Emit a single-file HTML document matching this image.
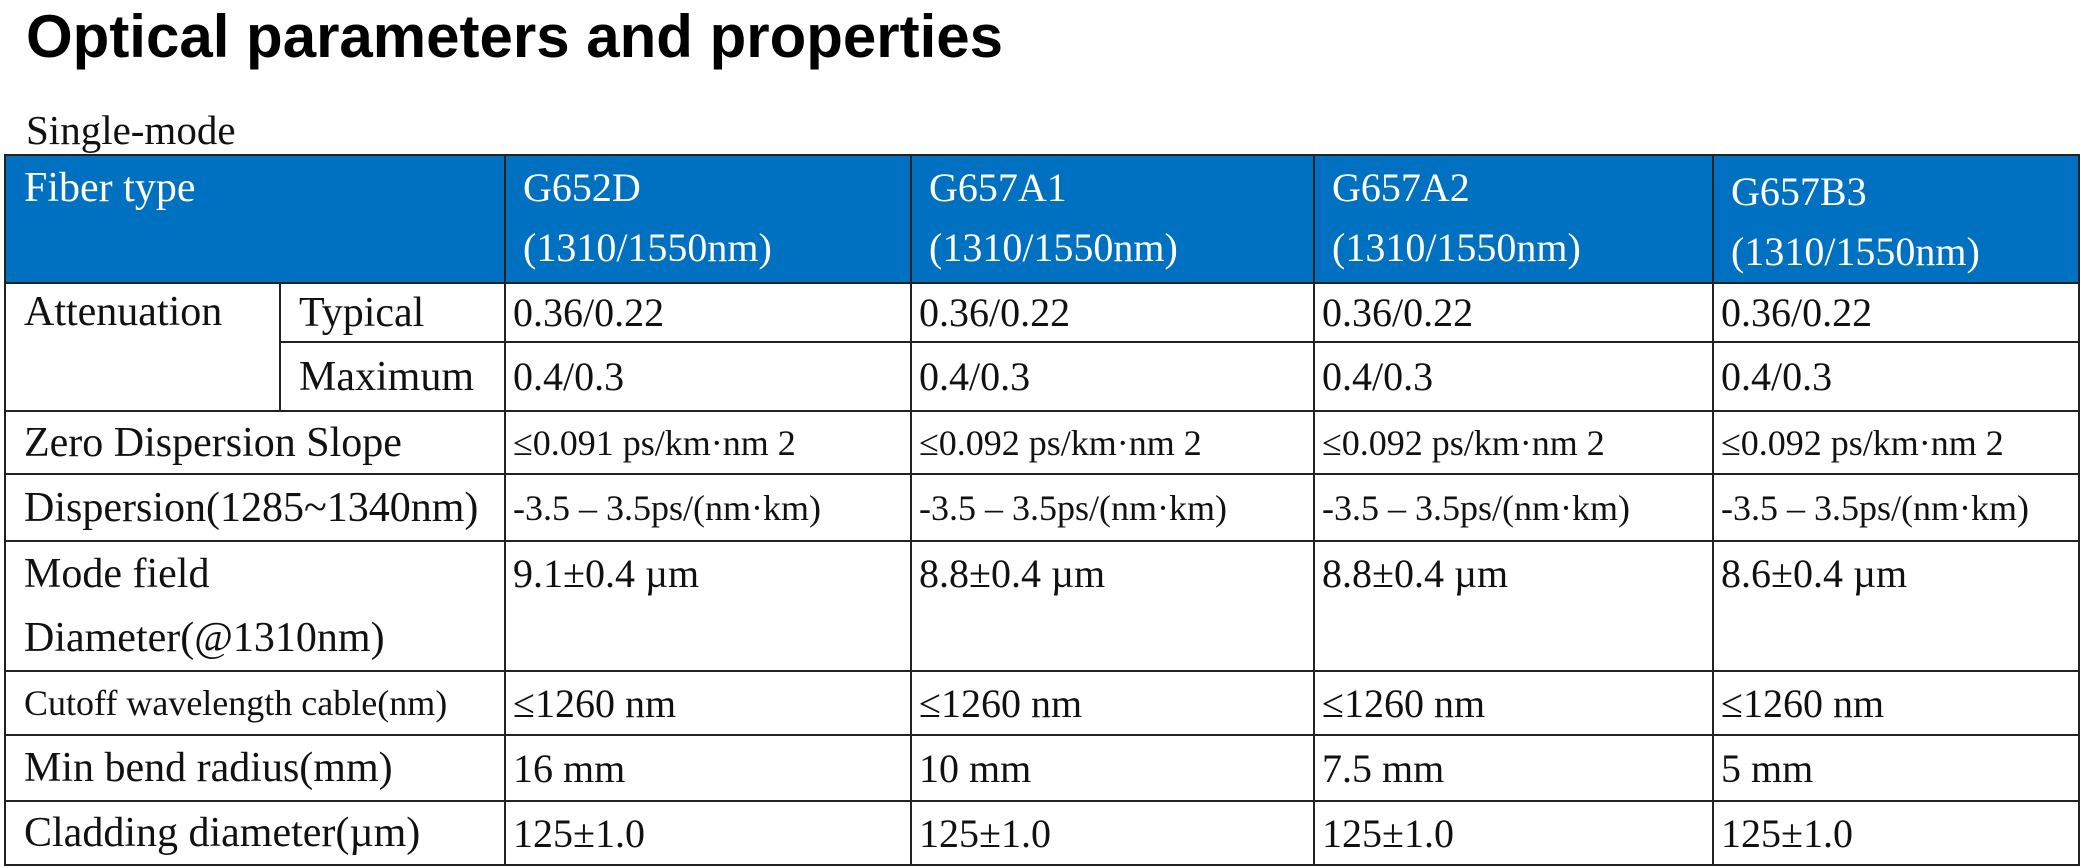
<!DOCTYPE html>
<html><head><meta charset="utf-8"><style>
body{margin:0;width:2081px;height:868px;background:#fff;position:relative;overflow:hidden;font-family:"Liberation Serif",serif;color:#111}
h1{position:absolute;left:26px;top:2px;margin:0;font:bold 60px "Liberation Sans",sans-serif;color:#000}
.sub{position:absolute;left:26px;top:106px;font-size:41px}
table{position:absolute;left:4px;top:154px;border-collapse:collapse;table-layout:fixed}
td{border:2.5px solid #222;padding:0 0 0 7px;font-size:40px;vertical-align:middle;white-space:nowrap;overflow:hidden}
td.l{padding-left:18px;font-size:42px}
tr.h td{background:#0070C0;color:#fff;vertical-align:top;line-height:60px;padding-left:17px;padding-top:2px}
.s{font-size:36px}
td.l.s{font-size:36px}
.t{vertical-align:top!important}
</style></head><body>
<h1>Optical parameters and properties</h1>
<div class="sub">Single-mode</div>
<table>
<colgroup><col style="width:275px"><col style="width:225px"><col style="width:406px"><col style="width:403px"><col style="width:399px"><col style="width:366px"></colgroup>
<tr class="h" style="height:127px"><td colspan="2" style="font-size:42px;padding-left:18px">Fiber type</td><td>G652D<br>(1310/1550nm)</td><td>G657A1<br>(1310/1550nm)</td><td>G657A2<br>(1310/1550nm)</td><td style="padding-top:6px">G657B3<br>(1310/1550nm)</td></tr>
<tr style="height:59px"><td rowspan="2" class="t l" style="padding-top:4px">Attenuation</td><td class="l">Typical</td><td>0.36/0.22</td><td>0.36/0.22</td><td>0.36/0.22</td><td>0.36/0.22</td></tr>
<tr style="height:69px"><td class="l">Maximum</td><td>0.4/0.3</td><td>0.4/0.3</td><td>0.4/0.3</td><td>0.4/0.3</td></tr>
<tr style="height:63px"><td colspan="2" class="l">Zero Dispersion Slope</td><td class="s">≤0.091 ps/km·nm 2</td><td class="s">≤0.092 ps/km·nm 2</td><td class="s">≤0.092 ps/km·nm 2</td><td class="s">≤0.092 ps/km·nm 2</td></tr>
<tr style="height:67px"><td colspan="2" class="l">Dispersion(1285~1340nm)</td><td class="s">-3.5 – 3.5ps/(nm·km)</td><td class="s">-3.5 – 3.5ps/(nm·km)</td><td class="s">-3.5 – 3.5ps/(nm·km)</td><td class="s">-3.5 – 3.5ps/(nm·km)</td></tr>
<tr style="height:129px"><td colspan="2" class="t l" style="line-height:64px">Mode field<br>Diameter(@1310nm)</td><td class="t" style="line-height:64px">9.1±0.4 µm</td><td class="t" style="line-height:64px">8.8±0.4 µm</td><td class="t" style="line-height:64px">8.8±0.4 µm</td><td class="t" style="line-height:64px">8.6±0.4 µm</td></tr>
<tr style="height:64px"><td colspan="2" class="l s">Cutoff wavelength cable(nm)</td><td>≤1260 nm</td><td>≤1260 nm</td><td>≤1260 nm</td><td>≤1260 nm</td></tr>
<tr style="height:66px"><td colspan="2" class="l">Min bend radius(mm)</td><td>16 mm</td><td>10 mm</td><td>7.5 mm</td><td>5 mm</td></tr>
<tr style="height:64px"><td colspan="2" class="l">Cladding diameter(µm)</td><td>125±1.0</td><td>125±1.0</td><td>125±1.0</td><td>125±1.0</td></tr>
</table>
</body></html>
